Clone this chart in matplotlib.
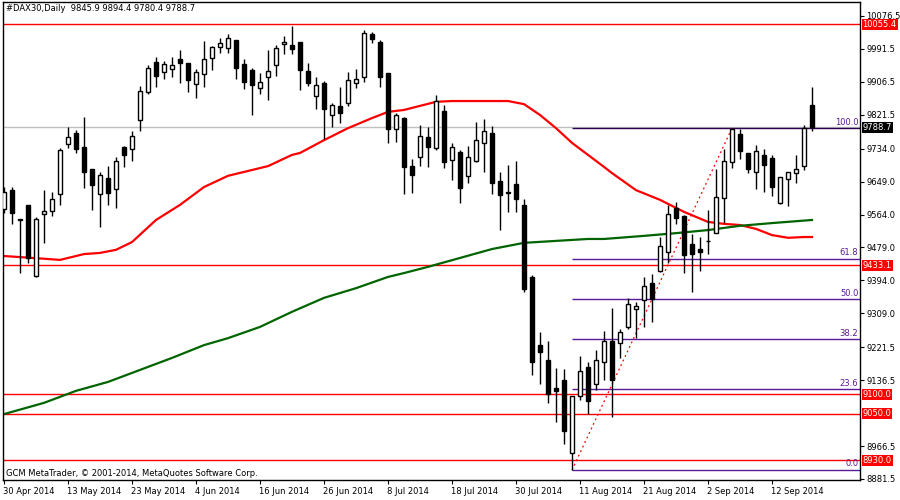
import matplotlib
matplotlib.use('Agg')
import matplotlib.pyplot as plt
import matplotlib.transforms as mtransforms
import numpy as np

# OHLC (bar 0 = 30 Apr 2014)
opens = [9578, 9627, 9553, 9589, 9405, 9565, 9573, 9617, 9746, 9775,
         9738, 9682, 9617, 9658, 9630, 9738, 9733, 9808, 9880, 9958,
         9932, 9940, 9966, 9955, 9901, 9927, 9968, 9996, 9994, 10015,
         9953, 9937, 9891, 9919, 9950, 10004, 10002, 10009, 9935, 9870,
         9904, 9821, 9844, 9852, 9904, 9919, 10030, 10009, 9929, 9785,
         9813, 9689, 9712, 9764, 9736, 9831, 9705, 9725, 9664, 9702,
         9749, 9775, 9651, 9622, 9643, 9589, 9403, 9227, 9189, 9116,
         9137, 8949, 9096, 9171, 9127, 9183, 9238, 9233, 9274, 9320,
         9344, 9387, 9418, 9467, 9581, 9560, 9488, 9475, 9496, 9516,
         9607, 9700, 9772, 9723, 9674, 9718, 9710, 9594, 9656, 9671,
         9689, 9845.9]
highs = [9635, 9635, 9553, 9589, 9558, 9627, 9622, 9736, 9790, 9782,
         9816, 9682, 9674, 9689, 9712, 9741, 9780, 9896, 9950, 9971,
         9960, 9971, 9989, 9955, 9940, 10012, 9999, 10020, 10030, 10015,
         9966, 9942, 9929, 9989, 10002, 10025, 10051, 10009, 9955, 9919,
         9909, 9852, 9893, 9932, 9940, 10040, 10035, 10015, 9929, 9826,
         9816, 9707, 9795, 9790, 9873, 9847, 9749, 9731, 9741, 9803,
         9811, 9793, 9674, 9692, 9702, 9604, 9408, 9261, 9238, 9168,
         9165, 9096, 9199, 9183, 9214, 9263, 9323, 9269, 9349, 9338,
         9403, 9411, 9506, 9589, 9596, 9563, 9514, 9506, 9576, 9682,
         9733, 9787, 9785, 9723, 9744, 9733, 9718, 9661, 9674, 9718,
         9795, 9894.4]
lows = [9568, 9540, 9412, 9439, 9403, 9491, 9560, 9589, 9736, 9723,
        9632, 9576, 9532, 9589, 9581, 9687, 9702, 9780, 9875, 9893,
        9914, 9919, 9904, 9880, 9865, 9893, 9937, 9981, 9981, 9914,
        9888, 9821, 9875, 9860, 9922, 9978, 9978, 9885, 9896, 9836,
        9759, 9790, 9800, 9844, 9891, 9906, 10007, 9893, 9749, 9751,
        9617, 9620, 9689, 9687, 9731, 9684, 9653, 9594, 9645, 9700,
        9674, 9617, 9524, 9571, 9571, 9364, 9150, 9127, 9078, 9029,
        8972, 8905, 9085, 9049, 9111, 9137, 9042, 9194, 9269, 9245,
        9274, 9287, 9416, 9439, 9540, 9413, 9364, 9418, 9462, 9516,
        9542, 9684, 9707, 9671, 9630, 9622, 9612, 9591, 9586, 9645,
        9679, 9780.4]
closes = [9622, 9568, 9550, 9452, 9553, 9573, 9604, 9731, 9764, 9733,
          9674, 9640, 9666, 9620, 9702, 9718, 9767, 9883, 9942, 9922,
          9953, 9950, 9955, 9911, 9932, 9966, 9996, 10007, 10020, 9942,
          9906, 9898, 9906, 9935, 9994, 10009, 9991, 9937, 9904, 9898,
          9836, 9847, 9826, 9911, 9914, 10033, 10017, 9919, 9785, 9821,
          9687, 9666, 9767, 9738, 9857, 9700, 9738, 9632, 9712, 9756,
          9780, 9645, 9615, 9620, 9604, 9372, 9183, 9209, 9101, 9109,
          9005, 9096, 9160, 9083, 9189, 9238, 9137, 9261, 9333, 9328,
          9380, 9346, 9483, 9565, 9555, 9460, 9462, 9467, 9497, 9609,
          9702, 9785, 9728, 9682, 9728, 9692, 9635, 9661, 9674, 9682,
          9787, 9788.7]

# moving averages sampled at bar indices
ma_red_idx = [0, 5, 7, 10, 12, 14, 16, 19, 22, 25, 28, 30, 33, 36, 37, 40, 43, 46, 48, 50,
              54, 56, 59, 63, 65, 67, 69, 71, 73, 75, 76, 79, 82, 85, 88, 90, 92, 94, 96, 98, 100, 101]
ma_red = [9457, 9450, 9447, 9462, 9465, 9473, 9493, 9550, 9589, 9635, 9664, 9674, 9689, 9718,
          9723, 9756, 9787, 9813, 9829, 9834, 9855, 9857, 9857, 9857, 9849, 9821, 9787, 9749,
          9718, 9687, 9671, 9627, 9602, 9571, 9545, 9540, 9537, 9527, 9511, 9504, 9506, 9506]
ma_green_idx = [0, 5, 9, 13, 17, 21, 25, 28, 32, 36, 40, 44, 48, 50, 53, 57, 61, 65, 69, 73,
                75, 80, 84, 88, 92, 96, 101]
ma_green = [9049, 9078, 9109, 9132, 9163, 9194, 9227, 9245, 9274, 9313, 9349, 9374, 9403, 9413,
            9429, 9452, 9475, 9491, 9496, 9501, 9501, 9509, 9516, 9524, 9535, 9542, 9550]

levels = [10055.4, 9433.1, 9100.0, 9050.0, 8930.0]
fib_low, fib_high = 8904.6, 9787.0
fib_low_bar, fib_high_bar = 71, 91
fib_ratios = [0.0, 23.6, 38.2, 50.0, 61.8, 100.0]
last_price = 9788.7

yticks = [10076.5, 9991.5, 9906.5, 9821.5, 9734.0, 9649.0, 9564.0, 9479.0,
          9394.0, 9309.0, 9221.5, 9136.5, 8966.5, 8881.5]
date_labels = ['30 Apr 2014', '13 May 2014', '23 May 2014', '4 Jun 2014', '16 Jun 2014',
               '26 Jun 2014', '8 Jul 2014', '18 Jul 2014', '30 Jul 2014', '11 Aug 2014',
               '21 Aug 2014', '2 Sep 2014', '12 Sep 2014']
date_bars = [0, 8, 16, 24, 32, 40, 48, 56, 64, 72, 80, 88, 96]

FS = 6.0
plt.rcParams['font.family'] = ['DejaVu Sans']
fig = plt.figure(figsize=(9, 5), dpi=100)
ax = fig.add_axes([3 / 900, 20 / 500, 857 / 900, 478 / 500])
ax.set_xlim(-0.125, 107)
ax.set_ylim(8878.9, 10112.6)

x = np.arange(len(opens))
o = np.array(opens); c = np.array(closes)
ax.vlines(x, lows, highs, color='black', lw=1, zorder=3)
up = c >= o
ax.bar(x[up], (c - o)[up], bottom=o[up], width=0.6, facecolor='white',
       edgecolor='black', lw=1, zorder=4)
ax.bar(x[~up], (o - c)[~up], bottom=c[~up], width=0.6, facecolor='black',
       edgecolor='black', lw=1, zorder=4)

ax.plot(ma_red_idx, ma_red, color='#ff0000', lw=1.6, zorder=2)
ax.plot(ma_green_idx, ma_green, color='#006400', lw=1.6, zorder=2)

for lv in levels:
    ax.axhline(lv, color='#ff0000', lw=1, zorder=1)
ax.axhline(last_price, color='#c0c0c0', lw=1, zorder=0)

# fibonacci retracement
for r in fib_ratios:
    lv = fib_low + (fib_high - fib_low) * r / 100
    col = '#2a0050' if r == 100 else '#5a1a9a'
    ax.hlines(lv, fib_low_bar, 107, color=col, lw=1, zorder=2)
    ax.text(106.8, lv + 4, f'{r:.1f}', color='#5a1a9a', fontsize=FS, ha='right', va='bottom')
ax.plot([fib_low_bar, fib_high_bar], [fib_low, fib_high], color='#ff0000', lw=0.9,
        ls=(0, (1.5, 2.5)), zorder=2)

# axes cosmetics
for s in ax.spines.values():
    s.set_linewidth(1)
ax.yaxis.tick_right()
ax.set_yticks(yticks)
ax.set_yticklabels([f'{v:.1f}' for v in yticks], fontsize=FS)
ax.set_xticks(date_bars)
ax.set_xticklabels(date_labels, fontsize=FS, ha='left')
ax.tick_params(axis='y', length=3, pad=1.5)
ax.tick_params(axis='x', length=3, pad=2)
for lbl in ax.get_xticklabels():
    lbl.set_transform(lbl.get_transform() + mtransforms.ScaledTranslation(-1 / 72, 0, fig.dpi_scale_trans))

tr = mtransforms.blended_transform_factory(ax.transAxes, ax.transData)
for lv in levels:
    ax.text(1.003, lv, f'{lv:.1f}', transform=tr, fontsize=FS, color='white', va='center',
            ha='left', bbox=dict(boxstyle='square,pad=0.12', fc='#ff0000', ec='none'))
ax.text(1.003, last_price, f'{last_price:.1f}', transform=tr, fontsize=FS, color='white',
        va='center', ha='left', bbox=dict(boxstyle='square,pad=0.12', fc='black', ec='none'))

ax.text(0.004, 0.995, '#DAX30,Daily  9845.9 9894.4 9780.4 9788.7', transform=ax.transAxes,
        fontsize=FS, va='top', ha='left')
ax.text(0.004, 0.005, 'GCM MetaTrader, © 2001-2014, MetaQuotes Software Corp.',
        transform=ax.transAxes, fontsize=FS, va='bottom', ha='left')

fig.savefig('out.png', dpi=100)
